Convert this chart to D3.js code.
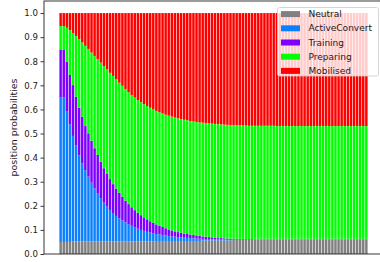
<!DOCTYPE html>
<head>
  <meta charset="utf-8">
  <style>
    body { margin: 0; background: #fff; }
    svg { display: block; }
    text { font-family: "DejaVu Sans", sans-serif; fill: #1a1a1a; }
  </style>
</head>
<body>
  <script src="https://cdn.jsdelivr.net/npm/d3@7"></script>
  <script>
    // series names and colours (bottom to top of each stack)
    var seriesNames = ["Neutral", "ActiveConvert", "Training", "Preparing", "Mobilised"];
    var seriesColors = ["#808080", "#0a80ff", "#8000ff", "#00ff00", "#ff0000"];
    var yTicks = [0, 0.1, 0.2, 0.3, 0.4, 0.5, 0.6, 0.7, 0.8, 0.9, 1.0];

    // values, one per bar (100 bars)
    var neutral = [
      .050,.050,.050,.050,.052,.052,.052,.052,.052,.052,
      .052,.052,.052,.052,.052,.052,.052,.052,.052,.052,
      .052,.052,.052,.052,.052,.052,.052,.052,.052,.052,
      .052,.054,.054,.054,.054,.054,.054,.054,.054,.054,
      .054,.054,.054,.054,.054,.054,.056,.056,.056,.056,
      .056,.056,.056,.056,.056,.056,.058,.058,.058,.058,
      .058,.058,.058,.060,.060,.060,.060,.060,.060,.060,
      .060,.060,.060,.060,.060,.060,.060,.060,.060,.060,
      .060,.060,.060,.060,.060,.060,.060,.060,.060,.060,
      .060,.060,.060,.060,.060,.060,.060,.060,.060,.060];
    var activeConvert = [
      .599,.599,.543,.488,.438,.400,.358,.325,.296,.269,
      .244,.220,.201,.180,.161,.145,.131,.118,.106,.096,
      .087,.079,.072,.065,.059,.053,.048,.044,.040,.037,
      .034,.029,.027,.025,.023,.021,.019,.018,.016,.015,
      .014,.013,.012,.011,.010,.009,.007,.006,.006,.005,
      .005,.004,.004,.004,.003,.003,.002,.002,.002,.002,
      .002,.002,.002,.002,.002,.002,.002,.002,.002,.002,
      .002,.002,.002,.002,.002,.002,.002,.002,.002,.002,
      .002,.002,.002,.002,.002,.002,.002,.002,.002,.002,
      .002,.002,.002,.002,.002,.002,.002,.002,.002,.002];
    var training = [
      .200,.200,.205,.205,.211,.201,.197,.193,.183,.180,
      .174,.167,.158,.151,.143,.135,.128,.120,.114,.106,
      .099,.090,.083,.077,.071,.066,.061,.056,.052,.047,
      .043,.040,.036,.033,.030,.027,.025,.022,.021,.019,
      .017,.016,.015,.014,.013,.012,.010,.010,.008,.008,
      .007,.006,.006,.005,.005,.004,.004,.003,.003,.003,
      .002,.002,.002,.001,.001,.001,.001,.001,.001,.001,
      .001,.001,.001,.001,.001,.001,.001,.001,.001,.001,
      .001,.001,.001,.001,.001,.001,.001,.001,.001,.001,
      .001,.001,.001,.001,.001,.001,.001,.001,.001,.001];
    var preparing = [
      .097,.097,.141,.186,.215,.252,.284,.308,.333,.350,
      .366,.383,.397,.411,.424,.434,.441,.449,.453,.457,
      .460,.464,.465,.466,.467,.468,.469,.470,.470,.471,
      .471,.471,.471,.471,.471,.472,.472,.472,.472,.472,
      .472,.472,.471,.471,.471,.471,.472,.471,.472,.472,
      .472,.473,.472,.472,.472,.472,.471,.471,.471,.470,
      .471,.470,.470,.469,.469,.469,.469,.469,.469,.469,
      .468,.468,.468,.468,.468,.468,.468,.468,.468,.468,
      .468,.468,.468,.468,.468,.468,.468,.468,.468,.468,
      .468,.468,.468,.468,.468,.468,.468,.468,.468,.468];
    var mobilised = [
      .054,.054,.061,.071,.084,.095,.109,.122,.136,.149,
      .164,.178,.192,.206,.220,.234,.248,.261,.275,.289,
      .302,.315,.328,.340,.351,.361,.370,.378,.386,.393,
      .400,.406,.412,.417,.422,.426,.430,.434,.437,.440,
      .443,.445,.448,.450,.452,.454,.455,.457,.458,.459,
      .460,.461,.462,.463,.464,.465,.465,.466,.466,.467,
      .467,.468,.468,.468,.468,.468,.468,.468,.468,.468,
      .469,.469,.469,.469,.469,.469,.469,.469,.469,.469,
      .469,.469,.469,.469,.469,.469,.469,.469,.469,.469,
      .469,.469,.469,.469,.469,.469,.469,.469,.469,.469];

    // build rows for d3.stack
    var seriesValues = [neutral, activeConvert, training, preparing, mobilised];
    var rows = neutral.map(function(d, i) {
      var r = {i: i};
      seriesNames.forEach(function(name, k) { r[name] = seriesValues[k][i]; });
      return r;
    });
    var stacked = d3.stack().keys(seriesNames)(rows);

    // axes box (right edge falls just outside the picture)
    var W = 380, H = 262;
    var plot = {left: 44, right: 383, top: 1, bottom: 254};
    var barWidth = 0.8;

    var x = d3.scaleLinear()
      .domain([-0.4 - 4.99, rows.length - 1 + 0.4 + 4.99])
      .range([plot.left, plot.right]);
    var y = d3.scaleLinear().domain([0, 1.05]).range([plot.bottom, plot.top]);

    var svg = d3.select("body").append("svg")
      .attr("width", W)
      .attr("height", H);

    // bars
    svg.append("g").selectAll("g")
      .data(stacked)
      .enter().append("g")
      .attr("fill", function(d, k) { return seriesColors[k]; })
      .selectAll("rect")
      .data(function(d) { return d; })
      .enter().append("rect")
      .attr("x", function(d) { return x(d.data.i - barWidth / 2); })
      .attr("width", x(barWidth) - x(0))
      .attr("y", function(d) { return y(d[1]); })
      .attr("height", function(d) { return y(d[0]) - y(d[1]); });

    // frame
    svg.append("rect")
      .attr("x", plot.left).attr("y", plot.top)
      .attr("width", plot.right - plot.left).attr("height", plot.bottom - plot.top)
      .attr("fill", "none")
      .attr("stroke", "#222")
      .attr("stroke-width", 0.9);

    // y axis
    var yAxis = svg.append("g")
      .attr("transform", "translate(" + plot.left + ",0)")
      .call(d3.axisLeft(y).tickValues(yTicks).tickFormat(d3.format(".1f"))
        .tickSize(3.5).tickPadding(2.5));
    yAxis.select(".domain").remove();
    yAxis.selectAll("line").attr("stroke", "#222").attr("stroke-width", 0.9);
    yAxis.selectAll("text")
      .attr("font-size", "8.6px")
      .attr("font-family", "DejaVu Sans")
      .attr("fill", "#1a1a1a");

    // y label
    svg.append("text")
      .attr("transform", "translate(14," + ((plot.top + plot.bottom) / 2) + ") rotate(-90)")
      .attr("text-anchor", "middle")
      .attr("dy", "0.35em")
      .attr("font-size", "9.4px")
      .text("position probabilities");

    // legend
    var legX = 277.5, legY = 7.5, legW = 101, legH = 68.5;
    var legend = svg.append("g");
    legend.append("rect")
      .attr("x", legX).attr("y", legY)
      .attr("width", legW).attr("height", legH)
      .attr("rx", 2)
      .attr("fill", "#fff").attr("fill-opacity", 0.8)
      .attr("stroke", "#ccc").attr("stroke-width", 0.8);

    var items = legend.selectAll("g.item")
      .data(seriesNames)
      .enter().append("g")
      .attr("class", "item")
      .attr("transform", function(d, k) { return "translate(" + (legX + 3.5) + "," + (legY + 6.6 + k * 14.2) + ")"; });
    items.append("rect")
      .attr("x", 0).attr("y", -3)
      .attr("width", 19).attr("height", 6)
      .attr("fill", function(d, k) { return seriesColors[k]; });
    items.append("text")
      .attr("x", 27.5)
      .attr("dy", "0.35em")
      .attr("font-size", "9px")
      .text(function(d) { return d; });
  </script>
</body>
